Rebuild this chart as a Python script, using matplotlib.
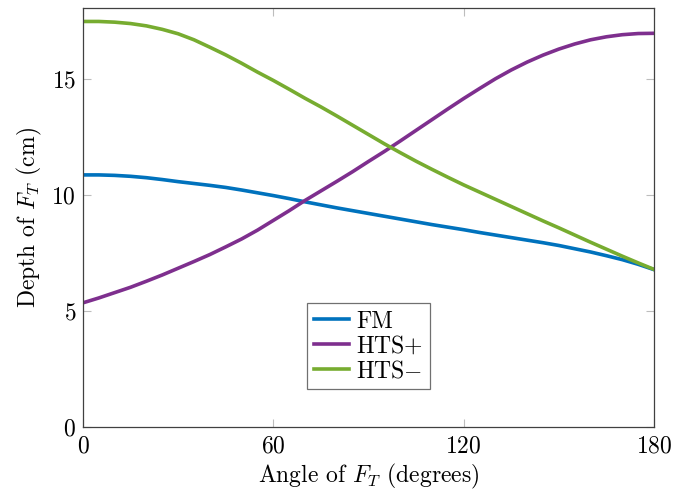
import numpy as np
import matplotlib
matplotlib.use('Agg')
import matplotlib.pyplot as plt

plt.rcParams['font.family'] = 'serif'
plt.rcParams['font.serif'] = ['cmr10']
plt.rcParams['mathtext.fontset'] = 'cm'
plt.rcParams['axes.formatter.use_mathtext'] = True
plt.rcParams['axes.unicode_minus'] = False

# Angle of F_T (degrees), every 5 degrees, and depth (cm) for each method
angle = list(range(0, 181, 5))
fm = [10.86, 10.86, 10.84, 10.80, 10.74, 10.66, 10.57, 10.49, 10.41, 10.32,
      10.21, 10.09, 9.97, 9.84, 9.70, 9.57, 9.44, 9.32, 9.20, 9.08,
      8.96, 8.84, 8.72, 8.61, 8.50, 8.38, 8.27, 8.16, 8.05, 7.94,
      7.82, 7.68, 7.54, 7.38, 7.21, 7.01, 6.78]
hts_plus = [5.35, 5.56, 5.79, 6.02, 6.28, 6.55, 6.84, 7.13, 7.43, 7.76,
            8.10, 8.48, 8.90, 9.32, 9.76, 10.17, 10.58, 11.00, 11.44, 11.87,
            12.32, 12.78, 13.24, 13.70, 14.15, 14.58, 15.00, 15.38, 15.72, 16.02,
            16.28, 16.50, 16.68, 16.81, 16.90, 16.95, 16.96]
hts_minus = [17.47, 17.47, 17.44, 17.38, 17.28, 17.13, 16.94, 16.68, 16.36, 16.03,
             15.67, 15.29, 14.93, 14.55, 14.16, 13.79, 13.40, 13.00, 12.60, 12.20,
             11.82, 11.45, 11.10, 10.76, 10.43, 10.12, 9.81, 9.50, 9.19, 8.88,
             8.58, 8.27, 7.96, 7.66, 7.36, 7.07, 6.79]

fig = plt.figure(figsize=(6.88, 4.91), dpi=100)
ax = fig.add_axes([0.1206, 0.1303, 0.8300, 0.8534])

lw = 2.6
ax.plot(angle, fm, color='#0072BD', lw=lw, label='FM')
ax.plot(angle, hts_plus, color='#7E2F8E', lw=lw, label='HTS$+$')
ax.plot(angle, hts_minus, color='#77AC30', lw=lw, label='HTS$-$')

ax.set_xlim(0, 180)
ax.set_ylim(0, 18.05)
ax.set_xticks([0, 60, 120, 180])
ax.set_yticks([0, 5, 10, 15])
ax.tick_params(direction='in', length=6, width=0.8, color='#bdbdbd',
               top=True, right=True, labelsize=17)
ax.tick_params(axis='x', pad=6)
ax.tick_params(axis='y', pad=5)
for s in ax.spines.values():
    s.set_color('#404040')
    s.set_linewidth(0.9)

ax.set_xlabel('Angle of $F_T$ (degrees)', fontsize=17, labelpad=3)
ax.set_ylabel('Depth of $F_T$ (cm)', fontsize=17, labelpad=5)

leg = ax.legend(loc='lower center', bbox_to_anchor=(0.5, 0.09), fontsize=17,
                fancybox=False, framealpha=1, edgecolor='#707070',
                handlelength=1.5, handletextpad=0.3, borderpad=0.3,
                labelspacing=0.1, borderaxespad=0)
leg.get_frame().set_linewidth(0.9)

fig.savefig('out.png', dpi=100)
